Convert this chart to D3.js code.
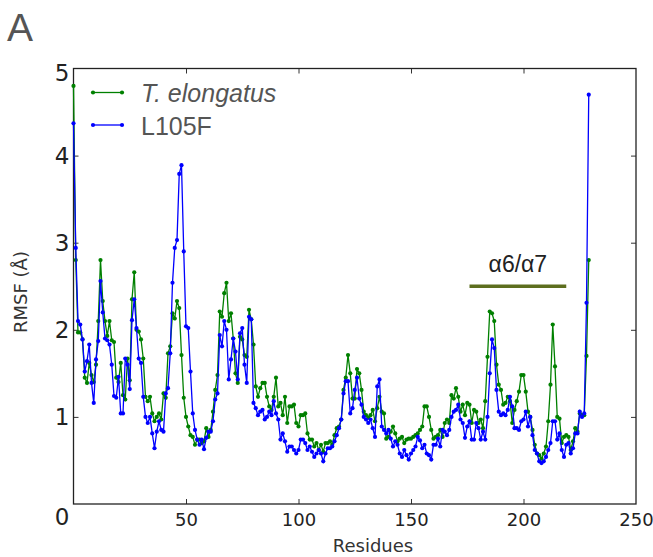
<!DOCTYPE html>
<html lang="en">
<head>
<meta charset="UTF-8">
<title>RMSF per residue</title>
<script src="https://d3js.org/d3.v7.min.js"></script>
<style>
  body { margin: 0; background: #fff; }
  svg { display: block; }
  .series { fill: none; stroke-width: 1.3; }
  .axis path { display: none; }
  .axis line { stroke: #333; stroke-width: 1; }
  .axis text { font-family: "DejaVu Sans", sans-serif; fill: #222; }
</style>
</head>
<body>
<svg id="chart" width="653" height="557"></svg>
<script>
// RMSF (Å) per residue
const wtRmsf = [
  4.80, 2.80, 1.97, 1.97, 1.89, 1.45, 1.39, 1.62, 1.48, 1.40,
  1.60, 2.10, 2.80, 2.33, 2.10, 1.93, 2.10, 1.88, 1.86, 1.45,
  1.40, 1.62, 1.25, 1.20, 1.67, 1.42, 2.35, 2.66, 2.00, 1.98,
  1.89, 1.67, 1.23, 1.18, 1.23, 1.04, 0.95, 1.00, 1.04, 0.97,
  1.27, 1.22, 1.73, 1.81, 2.19, 2.13, 2.33, 2.25, 1.71, 1.22,
  1.00, 0.89, 0.79, 0.77, 0.68, 0.74, 0.74, 0.70, 0.72, 0.87,
  0.77, 0.85, 1.06, 1.31, 1.48, 2.21, 2.15, 2.42, 2.54, 2.10,
  2.19, 1.90, 1.50, 1.39, 1.92, 1.89, 1.71, 1.69, 2.23, 2.12,
  1.83, 1.35, 1.23, 1.33, 1.39, 1.39, 1.23, 1.12, 1.08, 1.23,
  1.45, 1.12, 1.16, 1.02, 1.23, 0.93, 1.12, 1.12, 1.14, 0.93,
  0.89, 1.02, 1.02, 1.04, 0.81, 0.74, 0.74, 0.66, 0.70, 0.62,
  0.68, 0.60, 0.70, 0.70, 0.72, 0.68, 0.79, 0.87, 0.89, 0.97,
  1.31, 1.45, 1.71, 1.50, 1.21, 1.21, 1.55, 1.50, 1.31, 1.06,
  1.02, 0.99, 1.02, 1.08, 0.95, 1.10, 1.23, 1.06, 1.04, 0.75,
  0.77, 0.83, 0.89, 0.81, 0.72, 0.75, 0.77, 0.70, 0.74, 0.75,
  0.75, 0.77, 0.79, 0.81, 0.85, 0.89, 1.12, 1.12, 1.00, 0.85,
  0.75, 0.77, 0.79, 0.85, 0.77, 0.93, 0.97, 0.93, 1.25, 1.21,
  1.33, 1.23, 1.06, 1.14, 1.02, 1.16, 1.14, 0.93, 1.08, 1.06,
  0.93, 0.97, 0.87, 1.18, 1.69, 2.21, 2.19, 2.10, 1.60, 1.37,
  1.31, 1.14, 1.16, 1.23, 1.18, 0.93, 1.08, 1.18, 1.29, 1.48,
  1.48, 1.29, 1.06, 1.00, 0.85, 0.68, 0.58, 0.56, 0.52, 0.58,
  0.66, 0.95, 1.37, 2.06, 1.58, 1.00, 0.98, 0.70, 0.77, 0.79,
  0.77, 0.62, 0.72, 0.87, 0.83, 1.04, 1.02, 1.02, 1.70, 2.80
];
const mutRmsf = [
  4.37, 2.94, 2.10, 2.06, 1.89, 1.52, 1.64, 1.83, 1.39, 1.16,
  1.66, 1.87, 2.56, 2.20, 1.90, 1.88, 1.83, 1.60, 1.24, 1.22,
  1.46, 1.04, 1.04, 1.67, 1.60, 1.32, 2.11, 2.35, 2.02, 1.67,
  1.62, 1.23, 1.00, 0.93, 1.00, 0.81, 0.64, 0.83, 0.95, 0.85,
  0.83, 1.27, 1.33, 1.73, 2.54, 2.94, 3.03, 3.79, 3.89, 2.90,
  2.04, 2.02, 1.52, 1.04, 0.85, 0.74, 0.68, 0.74, 0.63, 0.76,
  0.83, 0.83, 0.95, 1.20, 1.27, 1.94, 1.81, 2.10, 2.00, 1.43,
  1.66, 1.90, 1.75, 1.43, 1.96, 2.02, 1.60, 1.39, 2.15, 2.12,
  1.16, 1.10, 1.02, 1.06, 1.08, 0.97, 1.00, 1.06, 1.02, 1.18,
  1.04, 0.97, 0.74, 0.81, 0.72, 0.60, 0.66, 0.66, 0.62, 0.58,
  0.62, 0.74, 0.74, 0.70, 0.62, 0.66, 0.60, 0.54, 0.58, 0.62,
  0.58, 0.49, 0.58, 0.64, 0.64, 0.66, 0.72, 0.79, 0.87, 0.97,
  1.27, 1.41, 1.41, 1.04, 1.10, 1.31, 1.45, 1.21, 1.14, 1.00,
  0.97, 0.93, 0.97, 0.87, 0.77, 1.35, 1.43, 0.89, 0.85, 0.81,
  0.85, 0.75, 0.66, 0.72, 0.68, 0.58, 0.54, 0.62, 0.56, 0.51,
  0.58, 0.62, 0.66, 0.77, 0.73, 0.64, 0.68, 0.58, 0.56, 0.51,
  0.68, 0.68, 0.75, 0.66, 0.85, 0.83, 0.79, 0.85, 1.00, 1.06,
  1.08, 1.14, 0.97, 0.93, 0.76, 0.89, 0.95, 0.74, 0.74, 0.93,
  0.87, 0.74, 0.83, 0.74, 1.00, 1.50, 1.89, 1.79, 1.31, 1.06,
  1.02, 1.04, 1.02, 1.08, 1.23, 1.12, 0.87, 0.87, 0.85, 0.95,
  0.97, 1.06, 0.89, 1.00, 0.79, 0.62, 0.58, 0.49, 0.47, 0.49,
  0.54, 0.62, 0.70, 0.95, 0.95, 0.74, 0.81, 0.62, 0.54, 0.68,
  0.70, 0.58, 0.64, 0.81, 0.81, 1.06, 1.00, 1.04, 2.31, 4.70
];
const residues = d3.range(wtRmsf.length);
const seriesNames = ["T. elongatus", "L105F"];
const seriesColors = ["#008000", "#0000ff"];
const xTicks = [0, 50, 100, 150, 200, 250];
const yTicks = [0, 1, 2, 3, 4, 5];
const helixLabel = "α6/α7";
const helixSpan = [176, 219];
const helixLevel = 2.5;

const svg = d3.select("#chart");
const box = {left: 73.5, right: 636, top: 68.5, bottom: 504};

const x = d3.scaleLinear().domain([0, 250]).range([box.left, box.right]);
const y = d3.scaleLinear().domain([0, 5]).range([box.bottom, box.top]);

// panel letter
svg.append("text")
  .attr("x", 7).attr("y", 41)
  .attr("font-family", "Liberation Sans, Arial, sans-serif")
  .attr("font-size", 39).attr("fill", "#555")
  .text("A");

// axes with inward ticks
const inner = xTicks.filter(d => d > 0 && d < 250);
svg.append("g").attr("class", "axis")
  .attr("transform", `translate(0,${box.bottom})`)
  .call(d3.axisBottom(x).tickValues(xTicks).tickSize(-5).tickPadding(9)
    .tickFormat(d => d === 0 ? "" : d3.format("d")(d)))
  .call(g => g.selectAll("text").attr("font-size", 18))
  .call(g => g.selectAll(".tick line").filter(d => d === 0 || d === 250).remove());

svg.append("g").attr("class", "axis")
  .attr("transform", `translate(0,${box.top})`)
  .call(d3.axisTop(x).tickValues(inner).tickSize(-5).tickFormat(""));

svg.append("g").attr("class", "axis")
  .attr("transform", `translate(${box.left},0)`)
  .call(d3.axisLeft(y).tickValues(yTicks).tickSize(-5).tickPadding(4)
    .tickFormat(d3.format("d")))
  .call(g => g.selectAll("text").attr("font-size", 23)
    .attr("dy", d => d === 0 ? "0.9em" : d === 5 ? "0.5em" : "0.34em"))
  .call(g => g.selectAll(".tick line").filter(d => d === 0 || d === 5).remove());

svg.append("g").attr("class", "axis")
  .attr("transform", `translate(${box.right},0)`)
  .call(d3.axisRight(y).tickValues(yTicks.filter(d => d > 0 && d < 5)).tickSize(-5).tickFormat(""));

svg.append("rect")
  .attr("x", box.left).attr("y", box.top)
  .attr("width", box.right - box.left).attr("height", box.bottom - box.top)
  .attr("fill", "none").attr("stroke", "#222").attr("stroke-width", 1.3);

// axis titles
svg.append("text")
  .attr("x", 373).attr("y", 552)
  .attr("text-anchor", "middle")
  .attr("font-family", "DejaVu Sans, sans-serif")
  .attr("font-size", 18).attr("fill", "#333")
  .text("Residues");

svg.append("text")
  .attr("transform", "translate(27,292) rotate(-90)")
  .attr("text-anchor", "middle")
  .attr("font-family", "DejaVu Sans, sans-serif")
  .attr("font-size", 18).attr("fill", "#333")
  .text("RMSF (Å)");

// series
const line = d3.line().x((d, i) => x(residues[i])).y(d => y(d));
[wtRmsf, mutRmsf].forEach((vals, k) => {
  const g = svg.append("g");
  g.append("path").datum(vals)
    .attr("class", "series")
    .attr("stroke", seriesColors[k])
    .attr("d", line);
  g.selectAll("circle").data(vals).join("circle")
    .attr("cx", (d, i) => x(residues[i]))
    .attr("cy", d => y(d))
    .attr("r", 2.1)
    .attr("fill", seriesColors[k]);
});

// helix marker
svg.append("line")
  .attr("x1", x(helixSpan[0])).attr("x2", x(helixSpan[1]))
  .attr("y1", y(helixLevel)).attr("y2", y(helixLevel))
  .attr("stroke", "#5d6e1e").attr("stroke-width", 3.5);
svg.append("text")
  .attr("x", x((helixSpan[0] + helixSpan[1]) / 2)).attr("y", y(helixLevel) - 14)
  .attr("text-anchor", "middle")
  .attr("font-family", "Liberation Sans, Arial, sans-serif")
  .attr("font-size", 23).attr("fill", "#222")
  .text(helixLabel);

// legend
const legend = svg.append("g");
seriesNames.forEach((name, k) => {
  const ly = 92.5 + k * 32.5;
  legend.append("line")
    .attr("x1", 93).attr("x2", 122).attr("y1", ly).attr("y2", ly)
    .attr("stroke", seriesColors[k]).attr("stroke-width", 1.3);
  [93, 122].forEach(cx => legend.append("circle")
    .attr("cx", cx).attr("cy", ly).attr("r", 2.1).attr("fill", seriesColors[k]));
  legend.append("text")
    .attr("x", 141).attr("y", ly + 9.5)
    .attr("font-family", "Liberation Sans, Arial, sans-serif")
    .attr("font-size", 25).attr("fill", "#555")
    .attr("font-style", k === 0 ? "italic" : "normal")
    .text(name);
});
</script>
</body>
</html>
